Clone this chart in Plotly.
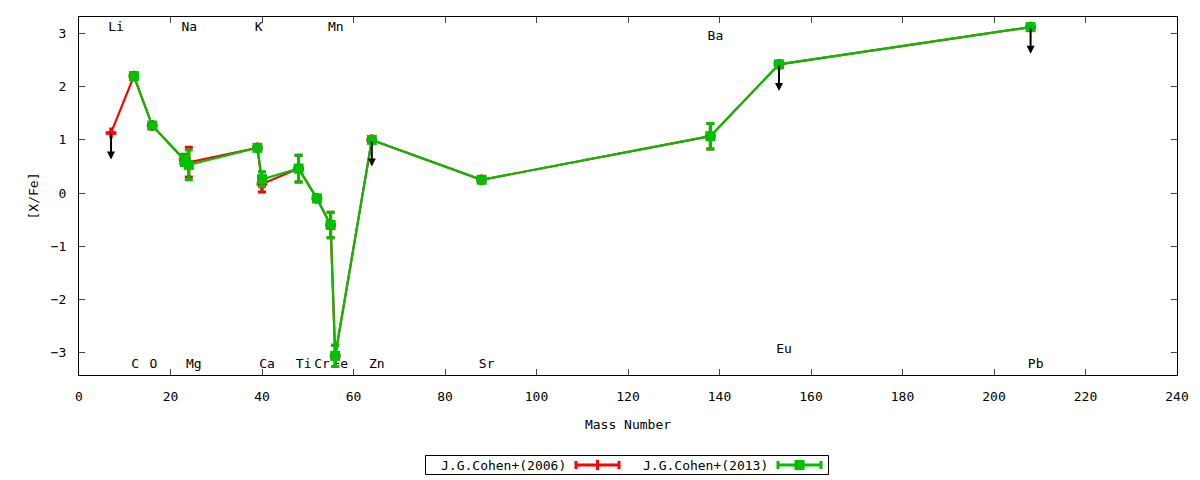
import plotly.graph_objects as go

# element, mass number and [X/Fe] for the two abundance sets
elements = ["Li", "C", "O", "Na", "Mg", "K", "Ca", "Ti", "Cr", "Mn", "Fe", "Zn", "Sr", "Ba", "Eu", "Pb"]
mass = [7, 12, 16, 23, 24, 39, 40, 48, 52, 55, 56, 64, 88, 138, 153, 208]

xfe_2006 = [1.13, 2.20, 1.27, 0.63, 0.58, 0.85, 0.17, 0.46, -0.10, -0.60, -3.06, 1.00, 0.25, 1.07, 2.42, 3.12]
err_2006 = [0, 0, 0, 0.10, 0.28, 0, 0.15, 0.25, 0.05, 0.24, 0.20, 0, 0, 0.24, 0, 0]
ul_2006 = [1, 0, 0, 0, 0, 0, 0, 0, 0, 0, 0, 1, 0, 0, 1, 1]

xfe_2013 = [None, 2.20, 1.27, 0.62, 0.53, 0.85, 0.26, 0.46, -0.10, -0.60, -3.06, 1.00, 0.25, 1.07, 2.42, 3.12]
err_2013 = [0, 0, 0, 0.10, 0.28, 0, 0.14, 0.25, 0.05, 0.24, 0.20, 0, 0, 0.24, 0, 0]
ul_2013 = [0, 0, 0, 0, 0, 0, 0, 0, 0, 0, 0, 1, 0, 0, 1, 1]

top_labels = ["Li", "Na", "K", "Mn"]
ba_label = ["Ba"]
eu_label = ["Eu"]

RED = "#ff0000"
GREEN = "#00c000"
FONT = "DejaVu Sans Mono"

L, R, T, B = 79, 23, 17, 105
W, H = 1200, 480
PW, PH = W - L - R, H - T - B


def xp(px):
    return (px - L) / PW


def yp(py):
    return (H - B - py) / PH


fig = go.Figure()

# element labels drawn first so the data sits on top of them
lab_x, lab_y, lab_t = [], [], []
for el, m in zip(elements, mass):
    if el in top_labels:
        y = 3.11
    elif el in ba_label:
        y = 2.93
    elif el in eu_label:
        y = -2.95
    else:
        y = -3.22
    lab_x.append(m - 0.6)
    lab_y.append(y)
    lab_t.append(el)
fig.add_trace(go.Scatter(x=lab_x, y=lab_y, text=lab_t, mode="text", textposition="middle right",
                         textfont=dict(family=FONT, size=13, color="black"), showlegend=False,
                         hoverinfo="skip"))

fig.add_trace(go.Scatter(x=mass, y=xfe_2006, mode="lines+markers", name="J.G.Cohen+(2006)",
                         line=dict(color=RED, width=2.2),
                         marker=dict(symbol="cross", size=9, color=RED),
                         error_y=dict(type="data", array=err_2006, color=RED, thickness=3, width=4),
                         showlegend=False))
fig.add_trace(go.Scatter(x=mass, y=xfe_2013, mode="lines+markers", name="J.G.Cohen+(2013)",
                         line=dict(color=GREEN, width=2.2),
                         marker=dict(symbol="square", size=10, color=GREEN),
                         error_y=dict(type="data", array=err_2013, color=GREEN, thickness=3, width=4),
                         showlegend=False))

# upper limit arrows
done = set()
for vals, uls in ((xfe_2006, ul_2006), (xfe_2013, ul_2013)):
    for m, v, u in zip(mass, vals, uls):
        if u and v is not None and m not in done:
            done.add(m)
            fig.add_annotation(x=m, y=v - 0.5, ax=m, ay=v, xref="x", yref="y", axref="x", ayref="y",
                               showarrow=True, arrowhead=2, arrowsize=0.8, arrowwidth=2,
                               arrowcolor="black", text="")

# legend box drawn by hand (text left of sample, gnuplot style)
shapes = [dict(type="rect", xref="paper", yref="paper", x0=xp(425.5), x1=xp(828.5),
               y0=yp(474.5), y1=yp(455.5), line=dict(color="black", width=1))]
for (x0, x1, col, sym) in ((576, 619, RED, "plus"), (778, 821, GREEN, "square")):
    yc = 465
    shapes.append(dict(type="line", xref="paper", yref="paper", x0=xp(x0), x1=xp(x1),
                       y0=yp(yc), y1=yp(yc), line=dict(color=col, width=3)))
    for xe in (x0, x1):
        shapes.append(dict(type="line", xref="paper", yref="paper", x0=xp(xe), x1=xp(xe),
                           y0=yp(yc - 4), y1=yp(yc + 4), line=dict(color=col, width=3)))
    xc = (x0 + x1) / 2
    if sym == "plus":
        shapes.append(dict(type="line", xref="paper", yref="paper", x0=xp(xc), x1=xp(xc),
                           y0=yp(yc - 5), y1=yp(yc + 5), line=dict(color=col, width=3)))
    else:
        shapes.append(dict(type="rect", xref="paper", yref="paper", x0=xp(xc - 5), x1=xp(xc + 5),
                           y0=yp(yc + 5), y1=yp(yc - 5), line=dict(color=col, width=0),
                           fillcolor=col))
fig.update_layout(shapes=shapes)

for txt, xr in (("J.G.Cohen+(2006)", 568), ("J.G.Cohen+(2013)", 770)):
    fig.add_annotation(x=xp(xr), y=yp(465), xref="paper", yref="paper", text=txt, showarrow=False,
                       xanchor="right", yanchor="middle", font=dict(family=FONT, size=13, color="black"))

fig.update_xaxes(range=[0, 240], dtick=20, tick0=0, ticks="inside", ticklen=6, mirror="ticks",
                 showline=True, linecolor="black", linewidth=1, showgrid=False, zeroline=False,
                 tickfont=dict(family=FONT, size=13, color="black"), ticklabelstandoff=9,
                 title=dict(text="Mass Number", font=dict(family=FONT, size=13, color="black"), standoff=17))
fig.update_yaxes(range=[-3.42, 3.31], dtick=1, ticks="inside", ticklen=6, mirror="ticks",
                 showline=True, linecolor="black", linewidth=1, showgrid=False, zeroline=False,
                 tickfont=dict(family=FONT, size=13, color="black"), ticklabelstandoff=9,
                 title=dict(text="[X/Fe]", font=dict(family=FONT, size=13, color="black"), standoff=9))

fig.update_layout(width=W, height=H, margin=dict(l=L, r=R, t=T, b=B),
                  paper_bgcolor="white", plot_bgcolor="white", font=dict(family=FONT, size=13))

fig.write_html("out.html", config={"displayModeBar": False},
               post_script="document.body.style.margin='0';")
